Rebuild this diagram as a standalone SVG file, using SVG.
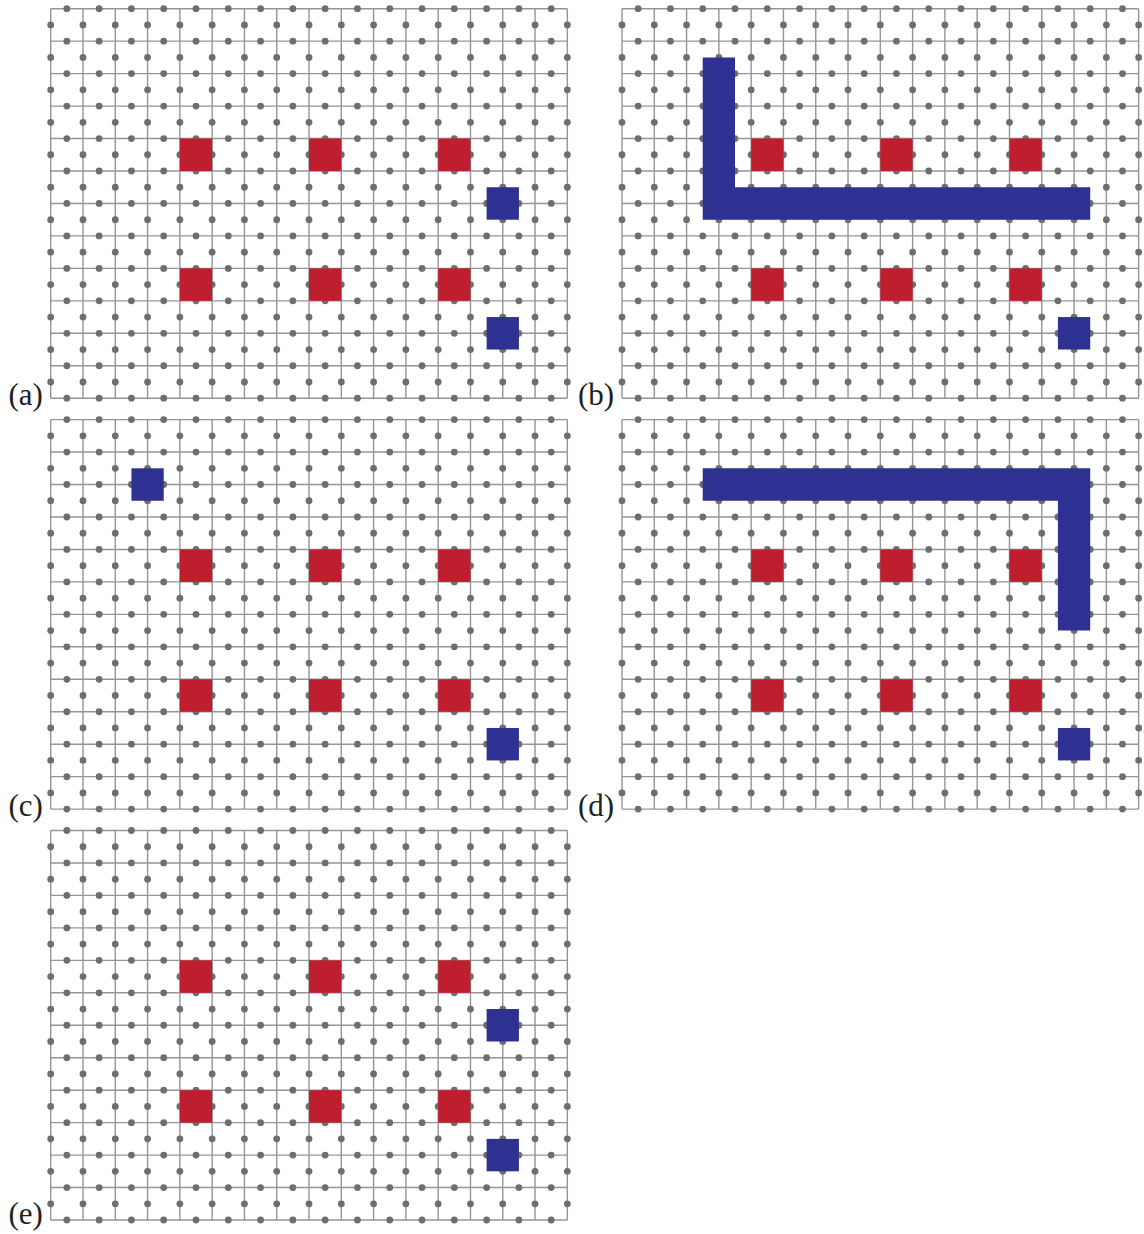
<svg xmlns="http://www.w3.org/2000/svg" xmlns:xlink="http://www.w3.org/1999/xlink" width="1144" height="1234" viewBox="0 0 1144 1234">
<style>
.grid{fill:none;stroke:#939598;stroke-width:1.4}
.dot{fill:#6d6e71}
.red{fill:#be1e2d}
.blue{fill:#2e3192}
.lbl{font-family:"Liberation Serif","Times New Roman",serif;font-size:31px;fill:#231f20}
</style>
<defs>
<g id="hdots">
<circle class="dot" cx="16.145" cy="0" r="3.4"/><circle class="dot" cx="48.435" cy="0" r="3.4"/><circle class="dot" cx="80.725" cy="0" r="3.4"/><circle class="dot" cx="113.015" cy="0" r="3.4"/><circle class="dot" cx="145.305" cy="0" r="3.4"/><circle class="dot" cx="177.595" cy="0" r="3.4"/><circle class="dot" cx="209.885" cy="0" r="3.4"/><circle class="dot" cx="242.175" cy="0" r="3.4"/><circle class="dot" cx="274.465" cy="0" r="3.4"/><circle class="dot" cx="306.755" cy="0" r="3.4"/><circle class="dot" cx="339.045" cy="0" r="3.4"/><circle class="dot" cx="371.335" cy="0" r="3.4"/><circle class="dot" cx="403.625" cy="0" r="3.4"/><circle class="dot" cx="435.915" cy="0" r="3.4"/><circle class="dot" cx="468.205" cy="0" r="3.4"/><circle class="dot" cx="500.495" cy="0" r="3.4"/>
</g>
<g id="vdots">
<circle class="dot" cx="0" cy="16.23" r="3.4"/><circle class="dot" cx="0" cy="48.69" r="3.4"/><circle class="dot" cx="0" cy="81.15" r="3.4"/><circle class="dot" cx="0" cy="113.61" r="3.4"/><circle class="dot" cx="0" cy="146.07" r="3.4"/><circle class="dot" cx="0" cy="178.53" r="3.4"/><circle class="dot" cx="0" cy="210.99" r="3.4"/><circle class="dot" cx="0" cy="243.45" r="3.4"/><circle class="dot" cx="0" cy="275.91" r="3.4"/><circle class="dot" cx="0" cy="308.37" r="3.4"/><circle class="dot" cx="0" cy="340.83" r="3.4"/><circle class="dot" cx="0" cy="373.29" r="3.4"/>
</g>
<g id="lattice">
<path class="grid" d="M0,0H516.64M0,32.46H516.64M0,64.92H516.64M0,97.38H516.64M0,129.84H516.64M0,162.3H516.64M0,194.76H516.64M0,227.22H516.64M0,259.68H516.64M0,292.14H516.64M0,324.6H516.64M0,357.06H516.64M0,389.52H516.64M0,0V389.52M32.29,0V389.52M64.58,0V389.52M96.87,0V389.52M129.16,0V389.52M161.45,0V389.52M193.74,0V389.52M226.03,0V389.52M258.32,0V389.52M290.61,0V389.52M322.9,0V389.52M355.19,0V389.52M387.48,0V389.52M419.77,0V389.52M452.06,0V389.52M484.35,0V389.52M516.64,0V389.52"/>
<use xlink:href="#hdots" y="0"/><use xlink:href="#hdots" y="32.46"/><use xlink:href="#hdots" y="64.92"/><use xlink:href="#hdots" y="97.38"/><use xlink:href="#hdots" y="129.84"/><use xlink:href="#hdots" y="162.3"/><use xlink:href="#hdots" y="194.76"/><use xlink:href="#hdots" y="227.22"/><use xlink:href="#hdots" y="259.68"/><use xlink:href="#hdots" y="292.14"/><use xlink:href="#hdots" y="324.6"/><use xlink:href="#hdots" y="357.06"/><use xlink:href="#hdots" y="389.52"/>
<use xlink:href="#vdots" x="0"/><use xlink:href="#vdots" x="32.29"/><use xlink:href="#vdots" x="64.58"/><use xlink:href="#vdots" x="96.87"/><use xlink:href="#vdots" x="129.16"/><use xlink:href="#vdots" x="161.45"/><use xlink:href="#vdots" x="193.74"/><use xlink:href="#vdots" x="226.03"/><use xlink:href="#vdots" x="258.32"/><use xlink:href="#vdots" x="290.61"/><use xlink:href="#vdots" x="322.9"/><use xlink:href="#vdots" x="355.19"/><use xlink:href="#vdots" x="387.48"/><use xlink:href="#vdots" x="419.77"/><use xlink:href="#vdots" x="452.06"/><use xlink:href="#vdots" x="484.35"/><use xlink:href="#vdots" x="516.64"/>
</g>
<g id="reds">
<rect class="red" x="129.16" y="129.84" width="32.29" height="32.46"/>
<rect class="red" x="258.32" y="129.84" width="32.29" height="32.46"/>
<rect class="red" x="387.48" y="129.84" width="32.29" height="32.46"/>
<rect class="red" x="129.16" y="259.68" width="32.29" height="32.46"/>
<rect class="red" x="258.32" y="259.68" width="32.29" height="32.46"/>
<rect class="red" x="387.48" y="259.68" width="32.29" height="32.46"/>
</g>
<rect id="blueSq" class="blue" width="32.29" height="32.46"/>
</defs>
<rect width="1144" height="1234" fill="#ffffff"/>

<g id="panel-a" transform="translate(50.7,8.7)">
<use xlink:href="#lattice"/>
<use xlink:href="#reds"/>
<use xlink:href="#blueSq" x="435.92" y="178.53"/>
<use xlink:href="#blueSq" x="435.92" y="308.37"/>
</g>

<g id="panel-b" transform="translate(622,8.7)">
<use xlink:href="#lattice"/>
<use xlink:href="#reds"/>
<path class="blue" d="M80.73,48.69H113.02V178.53H468.21V210.99H80.73Z"/>
<use xlink:href="#blueSq" x="435.92" y="308.37"/>
</g>

<g id="panel-c" transform="translate(50.7,419.6)">
<use xlink:href="#lattice"/>
<use xlink:href="#reds"/>
<use xlink:href="#blueSq" x="80.73" y="48.69"/>
<use xlink:href="#blueSq" x="435.92" y="308.37"/>
</g>

<g id="panel-d" transform="translate(622,419.6)">
<use xlink:href="#lattice"/>
<use xlink:href="#reds"/>
<path class="blue" d="M80.73,48.69H468.21V210.99H435.92V81.15H80.73Z"/>
<use xlink:href="#blueSq" x="435.92" y="308.37"/>
</g>

<g id="panel-e" transform="translate(50.7,830.5)">
<use xlink:href="#lattice"/>
<use xlink:href="#reds"/>
<use xlink:href="#blueSq" x="435.92" y="178.53"/>
<use xlink:href="#blueSq" x="435.92" y="308.37"/>
</g>

<g id="labels">
<text class="lbl" x="8.5" y="405">(a)</text>
<text class="lbl" x="578" y="405">(b)</text>
<text class="lbl" x="8.5" y="816">(c)</text>
<text class="lbl" x="578" y="816">(d)</text>
<text class="lbl" x="8.5" y="1224">(e)</text>
</g>
</svg>
